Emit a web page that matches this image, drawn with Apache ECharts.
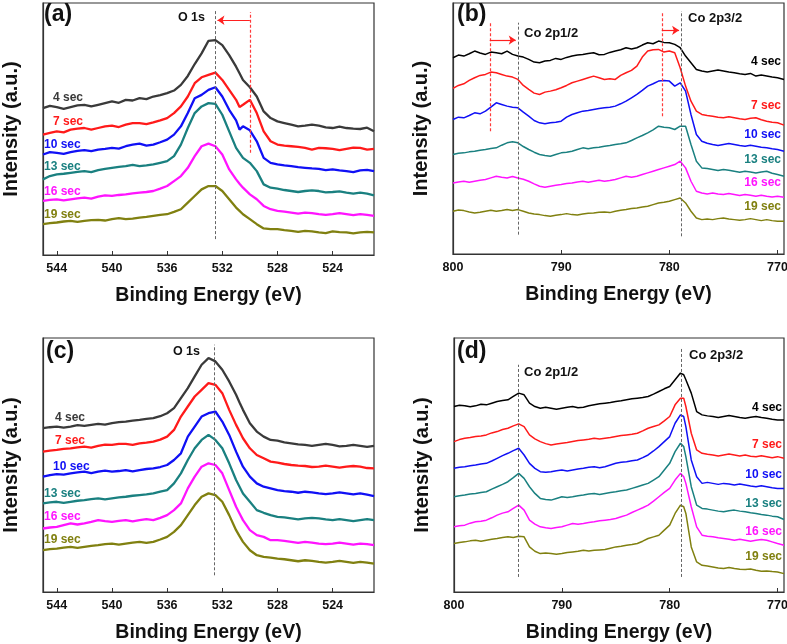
<!DOCTYPE html>
<html><head><meta charset="utf-8">
<script src="https://cdn.jsdelivr.net/npm/echarts@6.0.0/dist/echarts.min.js"></script>
<style>html,body{margin:0;padding:0;background:#fff}#c{width:787px;height:644px}</style>
</head><body><div id="c"></div>
<script>
// ---------- data ----------
const seriesNames = ['4 sec','7 sec','10 sec','13 sec','16 sec','19 sec'];
const ticksO = [544,540,536,532,528,524];
const ticksCo = [800,790,780,770];

const energyO = [545,544.5,544,543.5,543,542.5,542,541.5,541,540.5,540,539.5,539,538.5,538,537.5,537,536.5,536,
  535.5,535,534.5,534,533.5,533,532.5,532,531.5,531,530.75,530.5,530,529.5,529,528.5,528,
  527.5,527,526.5,526,525.5,525,524.5,524,523.5,523,522.5,522,521.5,521];
const energyCoB = [800,799.5,799,798.5,798,797.5,797,796.5,796,795.5,795,794.5,794,793.5,793,792.5,792,791.5,791,790.5,790,
  789.5,789,788.5,788,787.5,787,786.5,786,785.5,785,784.5,784,783.5,783,782.5,782,781.5,781,780.5,780,
  779.5,779,778.5,778,777.5,777,
  776.5,776,775.5,775,774.5,774,773.5,773,772.5,772,771.5,771,770.5,770,769.4];
const energyCoD = [800,799.5,799,798.5,798,797.5,797,796.5,796,795.5,795,794.5,794,793.5,793,792.5,792,791.5,791,790.5,790,
  789.5,789,788.5,788,787.5,787,786.5,786,785.5,785,784.5,784,783.5,783,782.5,782,781.5,781,780.5,780,
  779.5,779,778.7,778.5,778,777.5,777,
  776.5,776,775.5,775,774.5,774,773.5,773,772.5,772,771.5,771,770.5,770,769.4];

// panel (a) O 1s
const oA4  = [443,450,446,441,446,451,453,448,453,458,463,459,468,466,473,470,478,482,488,
  496,513,540,576,608,646,648,633,603,568,548,528,506,478,433,413,403,
  398,393,388,390,393,390,385,383,387,383,381,380,384,373];
const oA7  = [363,368,373,370,378,381,383,378,383,388,390,386,393,398,398,395,400,406,413,
  428,448,478,518,536,543,550,528,498,468,446,453,468,428,373,343,333,
  330,328,326,323,318,323,322,320,316,320,324,323,318,320];
const oA10 = [303,310,308,305,310,314,316,313,318,320,323,321,328,333,336,330,333,340,348,
  363,388,428,473,483,498,506,478,438,406,378,388,376,343,293,278,273,
  270,268,265,263,261,260,256,258,255,253,250,255,257,253];
const oA13 = [228,238,243,245,248,251,253,250,256,260,263,266,268,272,268,270,273,278,283,
  298,333,383,428,448,458,456,423,373,323,308,293,278,253,213,203,200,
  196,193,190,193,195,193,189,190,192,188,185,188,185,180];
const oA16 = [163,166,168,165,168,171,173,170,176,180,178,181,183,186,188,190,193,200,208,
  223,238,263,298,328,336,328,303,258,228,215,203,183,168,148,138,133,
  131,128,125,128,126,123,121,123,126,123,120,123,121,118];
const oA19 = [93,96,98,101,103,100,103,105,106,104,108,111,108,110,113,115,118,121,123,
  130,138,158,178,198,208,208,193,168,143,133,123,108,93,80,78,78,
  75,73,70,73,71,68,66,71,69,68,65,68,70,68];

// panel (b) Co 2p
const coB4  = [588,596,593,600,608,602,598,605,603,600,608,598,593,590,583,575,573,578,580,586,583,589,593,596,598,601,603,597,598,604,608,612,618,614,618,626,633,630,638,634,633,
  628,618,593,573,553,548,
  545,548,551,548,545,543,540,538,541,533,536,533,530,528,523];
const coB7  = [496,505,510,520,528,535,538,545,543,538,533,530,523,505,493,482,478,485,488,492,498,505,513,518,523,528,533,528,523,525,523,535,543,550,563,590,608,612,613,605,608,
  603,558,503,458,428,418,
  415,413,410,408,411,408,405,403,407,408,402,398,395,393,386];
const coB10 = [403,410,408,415,423,420,428,440,453,448,443,440,438,425,413,400,393,390,393,395,398,410,418,423,428,430,433,436,438,440,443,450,458,468,478,490,503,510,518,520,518,
  503,513,488,418,358,338,
  332,328,325,328,331,328,325,323,326,323,320,318,315,313,308];
const coB13 = [298,302,303,306,308,311,313,316,318,326,333,336,333,322,313,305,298,295,293,298,303,305,308,313,318,315,318,320,323,325,328,330,333,340,348,355,363,372,383,380,378,
  373,383,383,328,278,258,
  256,253,250,253,251,248,245,248,246,243,246,248,242,238,233];
const coB16 = [213,216,218,215,218,221,223,228,233,230,228,232,228,224,218,210,203,200,203,206,208,211,213,216,218,215,218,221,218,220,223,228,233,230,233,238,243,248,253,258,263,
  268,278,258,218,188,183,
  180,183,180,178,181,178,175,178,176,173,176,173,171,173,170];
const coB19 = [128,132,130,126,123,125,128,131,128,130,133,130,133,128,123,120,118,115,113,116,118,121,118,117,120,122,123,125,126,124,128,131,133,136,138,141,143,148,153,155,158,
  163,168,153,128,108,103,
  105,103,106,108,105,103,101,103,106,103,100,103,100,98,98];

// panel (c) O 1s
const oC4  = [490,493,495,492,495,499,497,500,503,501,505,508,510,513,515,518,520,526,535,
  550,580,610,645,680,700,690,665,630,590,567,545,505,480,465,455,453,
  448,445,442,440,437,440,443,440,436,437,440,437,434,437];
const oC7  = [420,423,425,428,430,433,435,432,437,441,440,443,443,440,445,447,450,456,465,
  485,525,555,585,605,625,620,595,545,500,480,460,430,410,400,390,387,
  383,380,378,377,374,375,378,375,372,375,377,375,371,370];
const oC10 = [345,350,353,351,355,358,360,356,360,363,360,362,365,361,365,368,370,374,380,
  395,415,465,495,525,535,540,510,470,420,397,375,345,325,315,310,305,
  302,300,297,300,298,295,293,295,298,295,292,295,291,287];
const oC13 = [265,268,270,267,270,273,275,278,280,277,280,283,285,288,290,292,295,300,305,
  325,355,395,430,455,470,455,430,385,335,315,295,270,245,237,230,225,
  223,220,217,220,222,220,217,215,218,215,212,215,218,215];
const oC16 = [190,193,195,200,205,202,205,210,215,212,210,213,215,211,215,218,215,222,230,
  245,265,310,345,375,385,380,355,305,255,235,215,185,170,165,155,155,
  153,150,147,150,148,145,143,145,148,145,142,145,143,140];
const oC19 = [125,128,130,133,135,132,135,138,140,143,145,142,145,148,150,147,150,157,165,
  180,200,230,260,285,295,290,270,230,185,167,150,125,110,105,103,100,
  98,95,92,95,93,90,88,90,93,90,87,90,88,85];

// panel (d) Co 2p
const coD4  = [555,559,557,554,557,562,560,565,570,573,575,585,595,590,565,555,550,553,550,547,550,553,555,551,553,557,560,563,565,567,570,572,575,578,580,582,585,592,600,608,615,
  635,655,650,635,595,540,530,
  527,525,522,525,528,525,522,520,523,525,522,520,517,515,515];
const coD7  = [450,456,460,462,465,467,470,476,480,486,490,497,503,495,470,458,450,444,440,443,445,447,450,453,455,457,460,458,460,462,465,468,470,472,475,482,490,495,500,512,525,
  560,580,580,555,475,425,415,
  412,410,407,410,413,410,407,410,406,405,408,405,402,405,400];
const coD10 = [370,373,375,378,380,383,385,392,400,408,415,423,430,410,385,370,360,358,360,363,365,362,365,368,370,373,375,372,375,380,385,388,390,393,395,402,410,422,435,450,465,
  505,530,525,495,395,345,325,
  328,325,322,325,323,320,323,320,317,315,318,315,312,310,310];
const coD13 = [285,288,290,293,295,298,300,308,315,322,330,342,355,340,315,295,280,277,275,280,285,283,285,288,290,293,295,292,295,298,300,303,305,310,315,320,325,335,345,365,385,
  420,445,435,405,315,260,250,
  248,245,242,240,243,245,242,240,237,235,232,230,227,225,217];
const coD16 = [195,198,200,206,210,212,215,222,230,236,240,250,260,245,215,203,195,192,190,193,195,200,205,203,205,208,210,213,215,217,220,225,230,238,245,252,260,272,285,298,310,
  335,355,345,325,255,195,170,
  167,165,162,160,158,155,158,155,152,155,157,155,150,145,140];
const coD19 = [145,148,150,153,155,152,155,158,160,163,165,163,167,165,135,122,115,117,115,113,115,118,120,122,125,123,125,126,127,131,135,137,140,142,145,152,160,165,170,185,200,
  235,260,255,235,135,90,80,
  78,75,72,70,73,70,68,67,69,65,62,63,61,60,55];

// ---------- styling ----------
const colorsAC = ['#3a3a3a','#ff1a1a','#1010f5','#1a8080','#ff14ff','#808010'];
const colorsBD = ['#000000','#ff1a1a','#1010f5','#1a8080','#ff14ff','#808010'];
const FONT = 'Liberation Sans, Arial, sans-serif';

const panels = [
  {grid:{left:43, top:3, width:331, height:252}, xmin:521, xmax:545, ymax:760, ticks:ticksO, xs:energyO, ys:[oA4,oA7,oA10,oA13,oA16,oA19], colors:colorsAC, lw:2.3},
  {grid:{left:453, top:3, width:331, height:251}, xmin:769.4, xmax:800, ymax:752, ticks:ticksCo, xs:energyCoB, ys:[coB4,coB7,coB10,coB13,coB16,coB19], colors:colorsBD, lw:1.5},
  {grid:{left:43, top:338, width:331, height:254}, xmin:521, xmax:545, ymax:760, ticks:ticksO, xs:energyO, ys:[oC4,oC7,oC10,oC13,oC16,oC19], colors:colorsAC, lw:2.3},
  {grid:{left:454, top:338, width:330, height:254}, xmin:769.4, xmax:800, ymax:760, ticks:ticksCo, xs:energyCoD, ys:[coD4,coD7,coD10,coD13,coD16,coD19], colors:colorsBD, lw:1.5}
];

const grayDash = {color:'#666', width:1, type:[3,2]};
const redDash = {color:'#ff3a3a', width:1.2, type:[3,2]};
const redSolid = {color:'#ff2020', width:1.2, type:'solid'};
function vline(x, y0, y1, style){ return [{coord:[x,y0], lineStyle:style},{coord:[x,y1]}]; }
function arrow(x0, x1, y){ return [{coord:[x0,y], lineStyle:redSolid, symbol:'none'},{coord:[x1,y], symbol:'arrow'}]; }
const markLinesByPanel = [
  [vline(532.5,48,738,grayDash), vline(530,308,733,redDash), arrow(530,532.35,708)],
  [vline(794,58,693,grayDash), vline(778.9,53,728,grayDash), vline(796.6,368,693,redDash), vline(780.7,413,723,redDash), arrow(796.6,794.2,641), arrow(780.7,779.1,670)],
  [vline(532.55,50,740,grayDash)],
  [vline(794,45,680,grayDash), vline(778.9,45,730,grayDash)]
];

const grid=[], xAxis=[], yAxis=[], series=[];
panels.forEach((p,i)=>{
  grid.push(Object.assign({show:true, borderColor:'#333', borderWidth:1.2, backgroundColor:'transparent', containLabel:false, outerBoundsMode:'none'}, p.grid));
  xAxis.push({type:'value', gridIndex:i, min:p.xmin, max:p.xmax, inverse:true,
    axisLine:{show:true, onZero:false, lineStyle:{color:'#333', width:1.2}},
    axisTick:{show:true, inside:true, length:4, customValues:p.ticks, lineStyle:{color:'#333'}},
    axisLabel:{show:true, customValues:p.ticks, color:'#111', fontFamily:FONT, fontWeight:'bold', fontSize:12.5, margin:7, hideOverlap:false},
    splitLine:{show:false},
    name:'Binding Energy (eV)', nameLocation:'middle', nameGap:31,
    nameTextStyle:{color:'#111', fontFamily:FONT, fontWeight:'bold', fontSize:19.5}
  });
  yAxis.push({type:'value', gridIndex:i, min:0, max:p.ymax,
    axisLine:{show:true, lineStyle:{color:'#333', width:1.2}}, axisTick:{show:false}, axisLabel:{show:false}, splitLine:{show:false},
    name:'Intensity (a.u.)', nameLocation:'middle', nameGap:22, nameRotate:90,
    nameTextStyle:{color:'#111', fontFamily:FONT, fontWeight:'bold', fontSize:20}
  });
  p.ys.forEach((ys,k)=>{
    const s = {type:'line', name:seriesNames[k], xAxisIndex:i, yAxisIndex:i, showSymbol:false, symbol:'none',
      data: ys.map((v,j)=>[p.xs[j], v]), lineStyle:{color:p.colors[k], width:p.lw}, itemStyle:{color:p.colors[k]}, z:3};
    if(k===0){
      s.markLine = {silent:true, symbol:'none', symbolSize:7, label:{show:false}, data:markLinesByPanel[i], animation:false, z:5};
    }
    series.push(s);
  });
});

// text annotations (pixel layout)
function txt(t, x, y, color, size, align, weight){
  return {type:'text', x:x, y:y, z:10, style:{text:t, fill:color, font:(weight||'bold')+' '+size+'px '+FONT, textAlign:align||'left', textVerticalAlign:'middle'}};
}
const graphic = [];
const labelsA = [[53,98],[53,122],[44,145],[44,167],[44,192],[44,215]];
const labelsC = [[55,418],[55,441],[53,467],[44,494],[44,517],[44,540]];
const labelsB = [[781,62],[781,106],[781,135],[781,160],[781,183],[781,207]];
const labelsD = [[782,408],[782,445],[782,475],[782,504],[782,532],[782,557]];
seriesNames.forEach((n,k)=>{
  graphic.push(txt(n, labelsA[k][0], labelsA[k][1], colorsAC[k], 12, 'left'));
  graphic.push(txt(n, labelsC[k][0], labelsC[k][1], colorsAC[k], 12, 'left'));
  graphic.push(txt(n, labelsB[k][0], labelsB[k][1], colorsBD[k], 12, 'right'));
  graphic.push(txt(n, labelsD[k][0], labelsD[k][1], colorsBD[k], 12, 'right'));
});
graphic.push(txt('(a)', 44, 15, '#111', 23, 'left'));
graphic.push(txt('(b)', 457, 15, '#111', 23, 'left'));
graphic.push(txt('(c)', 46, 352, '#111', 23, 'left'));
graphic.push(txt('(d)', 457, 352, '#111', 23, 'left'));
graphic.push(txt('O 1s', 205, 18, '#111', 12.5, 'right'));
graphic.push(txt('O 1s', 200, 352, '#111', 12.5, 'right'));
graphic.push(txt('Co 2p1/2', 524, 33, '#111', 13, 'left'));
graphic.push(txt('Co 2p3/2', 688, 18, '#111', 13, 'left'));
graphic.push(txt('Co 2p1/2', 524, 372, '#111', 13, 'left'));
graphic.push(txt('Co 2p3/2', 689, 355, '#111', 13, 'left'));

const chart = echarts.init(document.getElementById('c'), null, {renderer:'canvas'});
chart.setOption({animation:false, backgroundColor:'#fff', grid, xAxis, yAxis, series, graphic});
</script>
</body></html>
